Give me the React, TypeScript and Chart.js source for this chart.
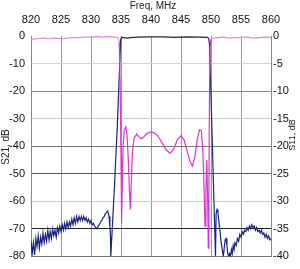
import { useEffect, useRef } from "react";
import { Chart, registerables } from "chart.js";
Chart.register(...registerables);

const xTitle = "Freq, MHz";
const leftTitle = "S21, dB";
const rightTitle = "S11, dB";

// S21 trace (left axis, dB)
const s21Freq = [
  820.0, 820.2, 820.4, 820.6, 820.8, 821.0, 821.2, 821.4, 821.6, 821.8,
  822.0, 822.2, 822.4, 822.6, 822.8, 823.0, 823.2, 823.4, 823.6, 823.8,
  824.0, 824.2, 824.4, 824.6, 824.8, 825.0, 825.2, 825.4, 825.6, 825.8,
  826.0, 826.2, 826.4, 826.6, 826.8, 827.0, 827.2, 827.4, 827.6, 827.8,
  828.0, 828.2, 828.4, 828.6, 828.8, 829.0, 829.2, 829.4, 829.6, 829.8,
  830.0, 830.2, 830.4, 830.6, 830.8, 831.0, 831.2, 831.4, 831.6, 831.8,
  832.0, 832.2, 832.4, 832.6, 832.8, 833.0, 833.15, 833.25, 833.3,
  833.9, 834.4, 834.7, 834.95, 835.1,
  836.0, 837.0, 838.0, 840.0, 842.0, 844.0, 846.0, 848.0, 849.4, 849.6,
  849.75, 850.0, 850.3, 850.55, 850.75,
  850.85, 851.0, 851.15, 851.3, 851.5, 851.7, 851.9, 852.05, 852.2, 852.35,
  852.5, 852.65, 852.8, 852.95, 853.1, 853.25, 853.4, 853.55, 853.7, 853.85,
  854.0, 854.2, 854.4, 854.6, 854.8, 855.0, 855.2, 855.4, 855.6, 855.8,
  856.0, 856.2, 856.4, 856.6, 856.8, 857.0, 857.2, 857.4, 857.6, 857.8,
  858.0, 858.2, 858.4, 858.6, 858.8, 859.0, 859.2, 859.4, 859.6, 859.8, 860.0,
];
const s21Values = [
  -74.5, -79, -75, -79.5, -73.5, -76.5, -72.5, -77, -73, -75.5,
  -71.5, -75, -72, -74.5, -70.5, -74, -71, -73.5, -70, -72.5,
  -70.5, -73, -69.5, -71.5, -69, -71, -68.5, -70.5, -68, -70,
  -67.5, -69.5, -67.5, -69, -66.5, -68.5, -66, -68, -65.5, -67.5,
  -65.5, -67, -65.5, -67, -65.5, -67, -66, -67.5, -66.5, -68,
  -67, -68.5, -68, -69, -69.5, -70, -69, -68.5, -67.5, -67,
  -66, -65.5, -64.5, -64, -63.5, -65.5, -69, -73, -80,
  -55, -32, -15, -1, -0.5,
  -0.8, -0.5, -0.4, -0.3, -0.3, -0.5, -0.3, -0.4, -0.5, -0.8,
  -3, -22, -45, -65, -80,
  -64.5, -63, -64, -67, -71, -75, -78, -80, -77, -74,
  -73.5, -76, -79, -80, -79, -80, -77.5, -79, -76, -77.5,
  -75, -76, -73.5, -74.5, -72, -73, -71, -72, -70.5, -71,
  -69.5, -70.5, -69, -70, -68.5, -69.5, -69, -70.5, -69.5, -71,
  -70.5, -71.5, -70.5, -72, -71.5, -73, -72, -73.5, -72.5, -74, -73.5,
];

// S11 trace (right axis, dB)
const s11Freq = [
  820.0, 821.0, 822.0, 823.0, 824.0, 825.0, 826.0, 827.0, 828.0, 829.0,
  830.0, 831.0, 832.0, 833.0, 834.0, 834.5, 834.7, 834.85,
  835.0, 835.1, 835.2, 835.35, 835.55, 835.8, 836.0, 836.2, 836.4, 836.55,
  836.7, 836.9, 837.2, 837.6, 838.0, 838.4, 838.8, 839.3, 840.0, 840.6,
  841.2, 841.8, 842.5, 843.2, 843.8, 844.4, 845.0, 845.5, 846.0, 846.5,
  846.9, 847.3, 847.7, 848.1, 848.4, 848.65, 848.85, 849.0, 849.15, 849.3,
  849.45, 849.55, 849.65, 849.75, 849.85, 850.0, 851.0, 852.0, 853.0, 854.0,
  855.0, 856.0, 857.0, 858.0, 859.0, 860.0,
];
const s11Values = [
  -0.6, -0.5, -0.4, -0.5, -0.4, -0.5, -0.4, -0.3, -0.3, -0.2,
  -0.2, -0.1, -0.2, -0.1, -0.2, -0.3, -1, -8,
  -22, -34, -28, -20, -17, -16.5, -18, -22, -28, -31.5,
  -27, -21, -18.5, -17.8, -18.3, -18.7, -18.3, -17.7, -17.4, -17.6,
  -18.2, -19.3, -20.6, -21.3, -20.5, -18.8, -18.1, -18.8, -20.8, -22.8,
  -23.6, -22, -18.8, -17, -17.2, -21, -28, -34.5, -28, -22.5,
  -30, -38.5, -28, -10, -2, -0.5, -0.3, -0.2, -0.4, -0.3,
  -0.3, -0.2, -0.4, -0.3, -0.2, -0.3,
];

const leftGridColors: Record<string, string> = {
  "0": "rgba(0,0,0,0)",
  "-10": "#c9d8c2",
  "-20": "#8a8a8a",
  "-30": "#cccccc",
  "-40": "#777777",
  "-50": "#5a5a5a",
  "-60": "#cccccc",
  "-70": "#222222",
  "-80": "#777777",
};

const titlesPlugin = {
  id: "axisTitles",
  afterDraw(chart: any) {
    const c = chart.ctx;
    c.save();
    c.fillStyle = "#222";
    c.font = '10px "Liberation Sans", Arial, sans-serif';
    c.textAlign = "center";
    c.textBaseline = "middle";
    c.fillText(xTitle, 153, 6);
    c.save();
    c.translate(6, 147);
    c.rotate(-Math.PI / 2);
    c.fillText(leftTitle, 0, 0);
    c.restore();
    c.font = '9px "Liberation Sans", Arial, sans-serif';
    c.save();
    c.translate(293, 135);
    c.rotate(-Math.PI / 2);
    c.fillText(rightTitle, 0, 0);
    c.restore();
    c.restore();
  },
};

export default function App() {
  const ref = useRef<HTMLCanvasElement | null>(null);
  useEffect(() => {
    if (!ref.current) return;
    const s21Data = s21Freq.map((f, i) => ({ x: f, y: s21Values[i] }));
    const s11Data = s11Freq.map((f, i) => ({ x: f, y: s11Values[i] }));
    const tickFont = { family: '"Liberation Sans", Arial, sans-serif', size: 11 };
    const chart = new Chart(ref.current, {
      type: "line",
      data: {
        datasets: [
          {
            label: "S11",
            data: s11Data,
            yAxisID: "y1",
            borderColor: "#dd33cc",
            borderWidth: 1.2,
            pointRadius: 0,
            tension: 0,
            segment: {
              borderColor: (ctx: any) =>
                ctx.p0.parsed.y > -1.5 && ctx.p1.parsed.y > -1.5 ? "#e588dc" : undefined,
            },
          },
          {
            label: "S21",
            data: s21Data,
            yAxisID: "y",
            borderColor: "#1a2380",
            borderWidth: 1.2,
            pointRadius: 0,
            tension: 0,
            segment: {
              borderColor: (ctx: any) =>
                ctx.p0.parsed.y > -2 && ctx.p1.parsed.y > -2 ? "#2a2a2a" : undefined,
            },
          },
        ],
      },
      options: {
        responsive: false,
        animation: false,
        layout: { padding: { left: 0, right: 0, top: 0, bottom: 4 } },
        plugins: { legend: { display: false }, tooltip: { enabled: false } },
        scales: {
          x: {
            type: "linear",
            position: "top",
            min: 820,
            max: 860,
            afterFit: (s: any) => {
              s.height = 36;
            },
            ticks: { stepSize: 5, padding: 9, color: "#111", font: tickFont, maxRotation: 0 },
            grid: { color: "#9a9a9a", drawTicks: false, lineWidth: 1 },
            border: { display: false },
          },
          y: {
            type: "linear",
            position: "left",
            min: -80,
            max: 0,
            afterFit: (s: any) => {
              s.width = 31;
            },
            ticks: { stepSize: 10, padding: 6, color: "#111", font: tickFont },
            grid: {
              drawTicks: false,
              color: (ctx: any) => leftGridColors[String(ctx.tick?.value)] ?? "#999",
            },
            border: { display: true, color: "#888" },
          },
          y1: {
            type: "linear",
            position: "right",
            min: -40,
            max: 0,
            afterFit: (s: any) => {
              s.width = 29;
            },
            ticks: { stepSize: 5, padding: 2, color: "#111", font: tickFont },
            grid: { drawOnChartArea: false, drawTicks: false },
            border: { display: true, color: "#888" },
          },
        },
      },
      plugins: [titlesPlugin],
    } as any);
    return () => chart.destroy();
  }, []);
  return (
    <div style={{ position: "absolute", left: 0, top: 0, width: 300, height: 269, background: "#fff" }}>
      <canvas ref={ref} width={300} height={269} style={{ display: "block" }} />
    </div>
  );
}
